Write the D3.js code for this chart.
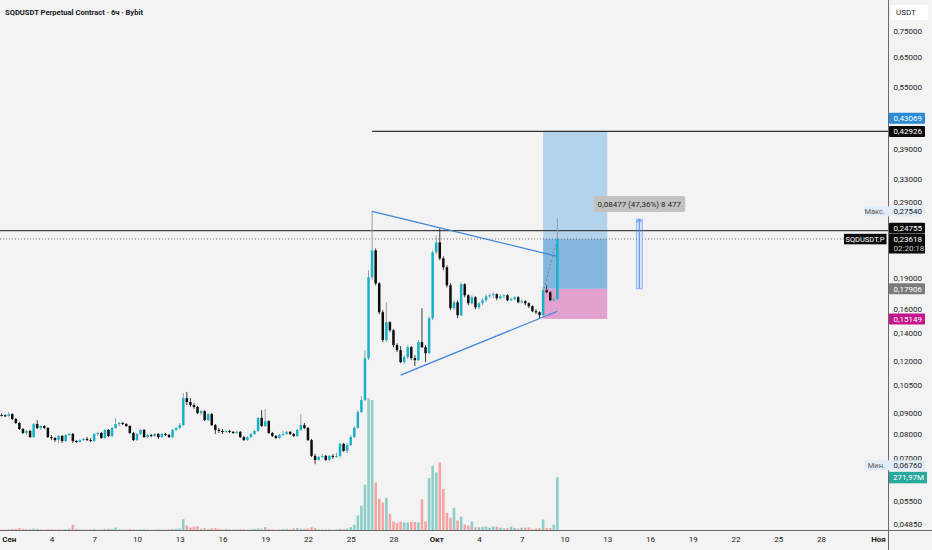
<!DOCTYPE html>
<html>
<head>
<meta charset="utf-8">
<script src="https://cdn.jsdelivr.net/npm/d3@7"></script>
<style>
  html, body { margin: 0; padding: 0; background: #f3f3f3; }
  svg { display: block; font-family: Roboto, "Noto Sans", sans-serif; }
</style>
</head>
<body>
<div id="chart"></div>
<script>
// SQDUSDT 6h candles, first visible bar = 31 Aug 12:00 UTC
const firstBar = Date.UTC(2025, 7, 31, 12);
const barMs = 6 * 3600 * 1000;

const opens = [
  0.0888, 0.0887, 0.0884, 0.0893, 0.0869, 0.0850, 0.0822, 0.0804, 0.0813, 0.0786,
  0.0845, 0.0827, 0.0836, 0.0827, 0.0786, 0.0782, 0.0773, 0.0791, 0.0769, 0.0795,
  0.0800, 0.0769, 0.0765, 0.0773, 0.0778, 0.0773, 0.0769, 0.0800, 0.0804, 0.0782,
  0.0818, 0.0791, 0.0827, 0.0845, 0.0850, 0.0845, 0.0836, 0.0804, 0.0773, 0.0800,
  0.0818, 0.0786, 0.0795, 0.0791, 0.0800, 0.0786, 0.0800, 0.0795, 0.0786, 0.0818,
  0.0827, 0.0840, 0.0976, 0.0955, 0.0939, 0.0929, 0.0898, 0.0908, 0.0864, 0.0893,
  0.0840, 0.0818, 0.0813, 0.0809, 0.0813, 0.0809, 0.0804, 0.0809, 0.0786, 0.0773,
  0.0786, 0.0800, 0.0813, 0.0874, 0.0836, 0.0859, 0.0804, 0.0791, 0.0782, 0.0795,
  0.0800, 0.0809, 0.0800, 0.0791, 0.0818, 0.0840, 0.0827, 0.0773, 0.0708, 0.0692,
  0.0704, 0.0708, 0.0692, 0.0708, 0.0704, 0.0708, 0.0757, 0.0728, 0.0752, 0.0786,
  0.0827, 0.0903, 0.0966, 0.1219, 0.1909, 0.2217, 0.1847, 0.1573, 0.1347, 0.1488,
  0.1423, 0.1310, 0.1274, 0.1192, 0.1226, 0.1295, 0.1219, 0.1205, 0.1332, 0.1295,
  0.1253, 0.1521, 0.2193, 0.2318, 0.2121, 0.2018, 0.1826, 0.1608, 0.1662, 0.1547,
  0.1837, 0.1728, 0.1653, 0.1709, 0.1617, 0.1653, 0.1681, 0.1718, 0.1728, 0.1738,
  0.1700, 0.1719, 0.1728, 0.1681, 0.1690, 0.1709, 0.1662, 0.1672, 0.1653, 0.1626,
  0.1581, 0.1573, 0.1547, 0.1777, 0.1757, 0.1681, 0.1690
];
const highs = [
  0.0897, 0.0893, 0.0903, 0.0898, 0.0874, 0.0855, 0.0827, 0.0818, 0.0818, 0.0850,
  0.0864, 0.0840, 0.0840, 0.0831, 0.0795, 0.0786, 0.0795, 0.0795, 0.0800, 0.0804,
  0.0804, 0.0773, 0.0778, 0.0782, 0.0786, 0.0782, 0.0804, 0.0809, 0.0809, 0.0822,
  0.0822, 0.0831, 0.0874, 0.0855, 0.0855, 0.0850, 0.0840, 0.0809, 0.0804, 0.0822,
  0.0822, 0.0800, 0.0800, 0.0804, 0.0804, 0.0804, 0.0804, 0.0800, 0.0822, 0.0831,
  0.0850, 0.1004, 0.1010, 0.0976, 0.0950, 0.0934, 0.0913, 0.0913, 0.0898, 0.0898,
  0.0845, 0.0827, 0.0822, 0.0818, 0.0818, 0.0813, 0.0813, 0.0813, 0.0791, 0.0791,
  0.0804, 0.0818, 0.0879, 0.0913, 0.0919, 0.0864, 0.0809, 0.0795, 0.0800, 0.0813,
  0.0813, 0.0813, 0.0804, 0.0822, 0.0893, 0.0850, 0.0831, 0.0778, 0.0716, 0.0708,
  0.0716, 0.0712, 0.0712, 0.0716, 0.0720, 0.0761, 0.0761, 0.0761, 0.0795, 0.0836,
  0.0913, 0.0987, 0.1274, 0.1985, 0.2754, 0.2242, 0.1857, 0.1590, 0.1662, 0.1496,
  0.1431, 0.1324, 0.1303, 0.1239, 0.1310, 0.1303, 0.1239, 0.1347, 0.1608, 0.1310,
  0.1538, 0.2217, 0.2410, 0.2505, 0.2145, 0.2040, 0.1847, 0.1681, 0.1681, 0.1857,
  0.1847, 0.1738, 0.1728, 0.1718, 0.1662, 0.1700, 0.1738, 0.1747, 0.1757, 0.1747,
  0.1738, 0.1738, 0.1738, 0.1709, 0.1719, 0.1719, 0.1690, 0.1681, 0.1662, 0.1635,
  0.1599, 0.1581, 0.1806, 0.1826, 0.1767, 0.1709, 0.2647
];
const lows = [
  0.0883, 0.0879, 0.0879, 0.0864, 0.0845, 0.0818, 0.0800, 0.0795, 0.0782, 0.0782,
  0.0822, 0.0818, 0.0822, 0.0782, 0.0773, 0.0765, 0.0761, 0.0761, 0.0765, 0.0791,
  0.0761, 0.0761, 0.0761, 0.0769, 0.0769, 0.0765, 0.0765, 0.0791, 0.0778, 0.0778,
  0.0786, 0.0786, 0.0822, 0.0836, 0.0840, 0.0831, 0.0800, 0.0769, 0.0769, 0.0795,
  0.0782, 0.0782, 0.0786, 0.0786, 0.0778, 0.0782, 0.0791, 0.0782, 0.0782, 0.0813,
  0.0822, 0.0836, 0.0939, 0.0929, 0.0919, 0.0893, 0.0888, 0.0859, 0.0859, 0.0836,
  0.0800, 0.0804, 0.0800, 0.0804, 0.0804, 0.0800, 0.0800, 0.0782, 0.0769, 0.0769,
  0.0782, 0.0795, 0.0809, 0.0831, 0.0831, 0.0800, 0.0786, 0.0778, 0.0778, 0.0791,
  0.0795, 0.0795, 0.0786, 0.0786, 0.0813, 0.0822, 0.0769, 0.0704, 0.0676, 0.0689,
  0.0700, 0.0689, 0.0689, 0.0696, 0.0700, 0.0700, 0.0724, 0.0720, 0.0748, 0.0782,
  0.0822, 0.0898, 0.0960, 0.1205, 0.1878, 0.1826, 0.1555, 0.1332, 0.1332, 0.1408,
  0.1295, 0.1260, 0.1185, 0.1179, 0.1212, 0.1205, 0.1166, 0.1199, 0.1290, 0.1192,
  0.1246, 0.1505, 0.2169, 0.2098, 0.1985, 0.1806, 0.1590, 0.1590, 0.1521, 0.1538,
  0.1709, 0.1635, 0.1644, 0.1599, 0.1599, 0.1635, 0.1662, 0.1700, 0.1700, 0.1681,
  0.1690, 0.1700, 0.1672, 0.1672, 0.1681, 0.1653, 0.1653, 0.1635, 0.1608, 0.1573,
  0.1555, 0.1521, 0.1538, 0.1747, 0.1672, 0.1662, 0.1681
];
const closes = [
  0.0887, 0.0884, 0.0893, 0.0869, 0.0850, 0.0822, 0.0804, 0.0813, 0.0786, 0.0845,
  0.0827, 0.0836, 0.0827, 0.0786, 0.0782, 0.0773, 0.0791, 0.0769, 0.0795, 0.0800,
  0.0769, 0.0765, 0.0773, 0.0778, 0.0773, 0.0769, 0.0800, 0.0804, 0.0782, 0.0818,
  0.0791, 0.0827, 0.0845, 0.0850, 0.0845, 0.0836, 0.0804, 0.0773, 0.0800, 0.0818,
  0.0786, 0.0795, 0.0791, 0.0800, 0.0786, 0.0800, 0.0795, 0.0786, 0.0818, 0.0827,
  0.0840, 0.0976, 0.0955, 0.0939, 0.0929, 0.0898, 0.0908, 0.0864, 0.0893, 0.0840,
  0.0818, 0.0813, 0.0809, 0.0813, 0.0809, 0.0804, 0.0809, 0.0786, 0.0773, 0.0786,
  0.0800, 0.0813, 0.0874, 0.0836, 0.0859, 0.0804, 0.0791, 0.0782, 0.0795, 0.0800,
  0.0809, 0.0800, 0.0791, 0.0818, 0.0840, 0.0827, 0.0773, 0.0708, 0.0692, 0.0704,
  0.0708, 0.0692, 0.0708, 0.0704, 0.0708, 0.0757, 0.0728, 0.0752, 0.0786, 0.0827,
  0.0903, 0.0966, 0.1219, 0.1909, 0.2217, 0.1847, 0.1573, 0.1347, 0.1488, 0.1423,
  0.1310, 0.1274, 0.1192, 0.1226, 0.1295, 0.1219, 0.1205, 0.1332, 0.1295, 0.1253,
  0.1521, 0.2193, 0.2318, 0.2121, 0.2018, 0.1826, 0.1608, 0.1662, 0.1547, 0.1837,
  0.1728, 0.1653, 0.1709, 0.1617, 0.1653, 0.1681, 0.1718, 0.1728, 0.1738, 0.1700,
  0.1719, 0.1728, 0.1681, 0.1690, 0.1709, 0.1662, 0.1672, 0.1653, 0.1626, 0.1581,
  0.1573, 0.1547, 0.1777, 0.1757, 0.1681, 0.1690, 0.23618
];
// volume, millions SQD
const volumes = [
  5, 4, 6, 7, 8, 12, 9, 6, 7, 10,
  9, 6, 5, 7, 6, 5, 6, 5, 7, 9,
  29, 8, 6, 5, 5, 6, 7, 5, 6, 8,
  9, 8, 15, 7, 6, 5, 7, 6, 5, 6,
  7, 5, 4, 5, 6, 5, 5, 6, 7, 8,
  10, 58, 26, 15, 20, 21, 9, 12, 8, 11,
  11, 7, 6, 8, 6, 5, 6, 7, 6, 5,
  6, 8, 10, 9, 17, 8, 6, 5, 6, 7,
  8, 6, 10, 12, 9, 8, 10, 17, 12, 6,
  5, 5, 6, 5, 6, 8, 7, 9, 17, 29,
  76, 127, 234, 676, 667, 245, 163, 143, 167, 85,
  46, 39, 46, 41, 41, 44, 44, 41, 159, 46,
  268, 331, 297, 348, 212, 90, 66, 116, 51, 71,
  31, 25, 46, 17, 17, 19, 20, 14, 20, 20,
  15, 12, 12, 20, 12, 10, 15, 15, 15, 7,
  10, 12, 56, 12, 12, 29, 271.97
];

const priceTicks = [0.75, 0.65, 0.55, 0.39, 0.33, 0.29, 0.19, 0.16, 0.14, 0.12,
                    0.105, 0.09, 0.08, 0.07, 0.055, 0.0485];
const tickDates = ['2025-09-01', '2025-09-04', '2025-09-07', '2025-09-10', '2025-09-13',
  '2025-09-16', '2025-09-19', '2025-09-22', '2025-09-25', '2025-09-28', '2025-10-01',
  '2025-10-04', '2025-10-07', '2025-10-10', '2025-10-13', '2025-10-16', '2025-10-19',
  '2025-10-22', '2025-10-25', '2025-10-28', '2025-11-01'];
const tickLabels = ['Сен', '4', '7', '10', '13', '16', '19', '22', '25', '28', 'Окт',
  '4', '7', '10', '13', '16', '19', '22', '25', '28', 'Ноя'];

// drawings
const resistance = 0.42926;
const targetPrice = 0.43069;
const entryPrice = 0.17906;
const stopPrice = 0.15149;
const lastPrice = 0.23618;
const prevHigh = 0.24755;
const maxPrice = 0.27540;
const minPrice = 0.06760;
const rangeDelta = 0.08477;
const rangePct = 47.36;
const rangeTicks = '8 477';
const triUpper = [['2025-09-26 12:00', 0.2754], ['2025-10-09 12:00', 0.2145]];
const triLower = [['2025-09-28 12:00', 0.1109], ['2025-10-09 12:00', 0.1581]];

const W = 932, H = 550;
const axisX = 888.5, axisY = 530.5;
const parseDay = d3.utcParse('%Y-%m-%d');
const parseTime = d3.utcParse('%Y-%m-%d %H:%M');

const bars = closes.map((c, i) => ({
  t: new Date(firstBar + i * barMs),
  o: opens[i], h: highs[i], l: lows[i], c: c, v: volumes[i]
}));

const x = d3.scaleUtc()
  .domain([parseDay('2025-09-01'), parseDay('2025-11-01')])
  .range([8.7, 878]);
const y = d3.scaleLog().domain([0.0485, 0.75]).range([524, 31]);
const yv = d3.scaleLinear().domain([0, 271.97]).range([axisY, 477.3]);
const fmt = v => d3.format('.5f')(v).replace('.', ',');

const svg = d3.select('#chart').append('svg')
  .attr('width', W).attr('height', H);

svg.append('rect').attr('width', W).attr('height', H).attr('fill', '#f3f3f3');

svg.append('defs').append('clipPath').attr('id', 'pane')
  .append('rect').attr('width', axisX).attr('height', axisY);

const pane = svg.append('g').attr('clip-path', 'url(#pane)');

// volume
pane.selectAll('.vol')
  .data(bars)
  .enter()
  .append('rect')
  .attr('class', 'vol')
  .attr('x', d => x(d.t) - 1.3)
  .attr('width', 2.6)
  .attr('y', d => yv(d.v))
  .attr('height', d => axisY - yv(d.v))
  .attr('fill', d => d.c >= d.o ? '#8dcfc8' : '#f4a6a4');

// long position tool
const posStart = parseTime('2025-10-08 12:00');
const posEnd = parseDay('2025-10-13');
const px0 = x(posStart), px1 = x(posEnd);
pane.append('rect')
  .attr('x', px0).attr('width', px1 - px0)
  .attr('y', y(targetPrice)).attr('height', y(lastPrice) - y(targetPrice))
  .attr('fill', '#b3d3ec');
pane.append('rect')
  .attr('x', px0).attr('width', px1 - px0)
  .attr('y', y(lastPrice)).attr('height', y(entryPrice) - y(lastPrice))
  .attr('fill', '#84b7e0');
pane.append('rect')
  .attr('x', px0).attr('width', px1 - px0)
  .attr('y', y(entryPrice)).attr('height', y(stopPrice) - y(entryPrice))
  .attr('fill', '#e3a1cf');
pane.append('line')
  .attr('x1', px0 + 1).attr('y1', y(entryPrice))
  .attr('x2', x(parseTime('2025-10-09 12:00'))).attr('y2', y(lastPrice))
  .attr('stroke', '#888').attr('stroke-width', 1).attr('stroke-dasharray', '2,2');

// horizontal levels
pane.append('line')
  .attr('x1', x(parseTime('2025-09-26 12:00'))).attr('x2', axisX)
  .attr('y1', y(resistance)).attr('y2', y(resistance))
  .attr('stroke', '#333').attr('stroke-width', 1.2);
pane.append('line')
  .attr('x1', 0).attr('x2', axisX)
  .attr('y1', y(prevHigh)).attr('y2', y(prevHigh))
  .attr('stroke', '#444').attr('stroke-width', 1.2);
pane.append('line')
  .attr('x1', 0).attr('x2', axisX)
  .attr('y1', y(lastPrice)).attr('y2', y(lastPrice))
  .attr('stroke', '#777').attr('stroke-width', 1).attr('stroke-dasharray', '1,2');

// candles
const candles = pane.selectAll('.candle')
  .data(bars)
  .enter()
  .append('g')
  .attr('class', 'candle');

candles.append('line')
  .attr('x1', d => x(d.t)).attr('x2', d => x(d.t))
  .attr('y1', d => y(d.h)).attr('y2', d => y(d.l))
  .attr('stroke', d => d.c >= d.o ? '#86a4ad' : '#3a3a3a')
  .attr('stroke-width', 1);

candles.append('rect')
  .attr('x', d => x(d.t) - 1.25)
  .attr('width', 2.5)
  .attr('y', d => y(Math.max(d.o, d.c)))
  .attr('height', d => Math.max(1, Math.abs(y(d.o) - y(d.c))))
  .attr('fill', d => d.c >= d.o ? '#17b2c9' : '#0e0e0e');

// triangle
const triLine = d3.line().x(d => x(parseTime(d[0]))).y(d => y(d[1]));
[triUpper, triLower].forEach(seg => {
  pane.append('path')
    .attr('d', triLine(seg))
    .attr('fill', 'none')
    .attr('stroke', '#3f86dc')
    .attr('stroke-width', 1.3);
});

// price range measure
const rangeTop = entryPrice + rangeDelta;
const rx = x(parseTime('2025-10-15 06:00'));
pane.append('rect')
  .attr('x', rx - 3).attr('width', 6)
  .attr('y', y(rangeTop)).attr('height', y(entryPrice) - y(rangeTop))
  .attr('fill', 'rgba(41,121,255,0.12)')
  .attr('stroke', 'rgba(41,121,255,0.55)').attr('stroke-width', 0.8);
pane.append('line')
  .attr('x1', rx).attr('x2', rx)
  .attr('y1', y(rangeTop)).attr('y2', y(entryPrice))
  .attr('stroke', '#4a8ee6').attr('stroke-width', 1);
pane.append('path')
  .attr('d', `M${rx - 2.5},${y(rangeTop) + 3}L${rx},${y(rangeTop)}L${rx + 2.5},${y(rangeTop) + 3}`)
  .attr('fill', 'none').attr('stroke', '#4a8ee6').attr('stroke-width', 1);
const rangeLabel = pane.append('g')
  .attr('transform', `translate(${rx},${y(rangeTop) - 15})`);
rangeLabel.append('rect')
  .attr('x', -46).attr('y', -8).attr('width', 92).attr('height', 16).attr('rx', 2)
  .attr('fill', '#c2c2c2');
rangeLabel.append('text')
  .attr('text-anchor', 'middle').attr('dy', '0.35em')
  .attr('font-size', '8px').attr('fill', '#1e1e1e')
  .text(`${fmt(rangeDelta)} (${d3.format('.2f')(rangePct).replace('.', ',')}%) ${rangeTicks}`);

// axes frame
svg.append('line').attr('x1', axisX).attr('x2', axisX).attr('y1', 0).attr('y2', H)
  .attr('stroke', '#6a6a6a').attr('stroke-width', 1);
svg.append('line').attr('x1', 0).attr('x2', W).attr('y1', axisY).attr('y2', axisY)
  .attr('stroke', '#6a6a6a').attr('stroke-width', 1);

// price axis
const yAxis = svg.append('g')
  .attr('transform', `translate(${axisX},0)`)
  .call(d3.axisRight(y).tickValues(priceTicks).tickFormat(fmt).tickSize(0).tickPadding(5));
yAxis.select('.domain').remove();
yAxis.selectAll('text')
  .attr('font-size', '8px').attr('fill', '#222')
  .attr('font-family', 'Roboto, sans-serif');

// time axis
const xAxis = svg.append('g')
  .attr('transform', `translate(0,${axisY})`)
  .call(d3.axisBottom(x).tickValues(tickDates.map(parseDay))
    .tickFormat((d, i) => tickLabels[i]).tickSize(0).tickPadding(6));
xAxis.select('.domain').remove();
xAxis.selectAll('text')
  .attr('font-size', '8px').attr('fill', '#222')
  .attr('font-family', 'Roboto, sans-serif')
  .attr('font-weight', (d, i) => isNaN(+tickLabels[i]) ? 700 : 400);

// price labels on the scale
const tagX = axisX + 0.5, tagW = 36;
function tag(yc, text, fill, color, h) {
  const hh = h || 11;
  svg.append('rect').attr('x', tagX).attr('y', yc - hh / 2)
    .attr('width', tagW).attr('height', hh).attr('rx', 1).attr('fill', fill);
  svg.append('text').attr('x', tagX + 4.5).attr('y', yc).attr('dy', '0.35em')
    .attr('font-size', '8px').attr('fill', color).text(text);
}
function softTag(yc, caption, value) {
  svg.append('rect').attr('x', 864.5).attr('y', yc - 5)
    .attr('width', 60).attr('height', 10).attr('fill', '#e2edf9');
  svg.append('text').attr('x', 885).attr('y', yc).attr('dy', '0.35em')
    .attr('text-anchor', 'end').attr('font-size', '7.5px').attr('fill', '#555').text(caption);
  svg.append('text').attr('x', tagX + 4.5).attr('y', yc).attr('dy', '0.35em')
    .attr('font-size', '8px').attr('fill', '#222').text(fmt(value));
}

// header
svg.append('rect').attr('x', 891).attr('y', 5).attr('width', 37).attr('height', 15)
  .attr('fill', '#fff');
svg.append('text').attr('x', 896).attr('y', 12.5).attr('dy', '0.35em')
  .attr('font-size', '8px').attr('fill', '#222').text('USDT');

tag(y(targetPrice) - 12.5, fmt(targetPrice), '#2a8bd4', '#fff');
tag(y(resistance), fmt(resistance), '#0b0b0b', '#fff');
softTag(y(maxPrice), 'Макс.', maxPrice);
tag(y(prevHigh) - 2.5, fmt(prevHigh), '#0b0b0b', '#fff', 10.5);
// last price with countdown
svg.append('rect').attr('x', tagX).attr('y', y(lastPrice) - 5.5)
  .attr('width', tagW).attr('height', 20).attr('fill', '#0b0b0b');
svg.append('text').attr('x', tagX + 4.5).attr('y', y(lastPrice)).attr('dy', '0.35em')
  .attr('font-size', '8px').attr('fill', '#fff').text(fmt(lastPrice));
svg.append('text').attr('x', tagX + 4.5).attr('y', y(lastPrice) + 9).attr('dy', '0.35em')
  .attr('font-size', '8px').attr('fill', '#c8c8c8').text('02:20:18');
svg.append('rect').attr('x', 844).attr('y', y(lastPrice) - 5.2)
  .attr('width', 42.5).attr('height', 10.5).attr('fill', '#0b0b0b');
svg.append('text').attr('x', 865).attr('y', y(lastPrice) + 0.3).attr('dy', '0.35em')
  .attr('text-anchor', 'middle').attr('font-size', '7.5px').attr('fill', '#fff').text('SQDUSDT.P');

tag(y(entryPrice), fmt(entryPrice), '#7b7b7b', '#fff');
tag(y(stopPrice), fmt(stopPrice), '#c4168b', '#fff');
softTag(y(minPrice) + 1, 'Мин.', minPrice);
svg.append('rect').attr('x', tagX).attr('y', yv(volumes[volumes.length - 1]) - 5.5)
  .attr('width', 38).attr('height', 11.5).attr('fill', '#27a99c');
svg.append('text').attr('x', tagX + 4).attr('y', yv(volumes[volumes.length - 1]))
  .attr('dy', '0.35em').attr('font-size', '8px').attr('fill', '#fff')
  .text(d3.format('.2f')(volumes[volumes.length - 1]).replace('.', ',') + 'M');

// title
svg.append('text')
  .attr('x', 5).attr('y', 12).attr('dy', '0.35em')
  .attr('font-size', '7.6px').attr('font-weight', 700).attr('fill', '#131722')
  .text('SQDUSDT Perpetual Contract · 6ч · Bybit');
</script>
</body>
</html>
